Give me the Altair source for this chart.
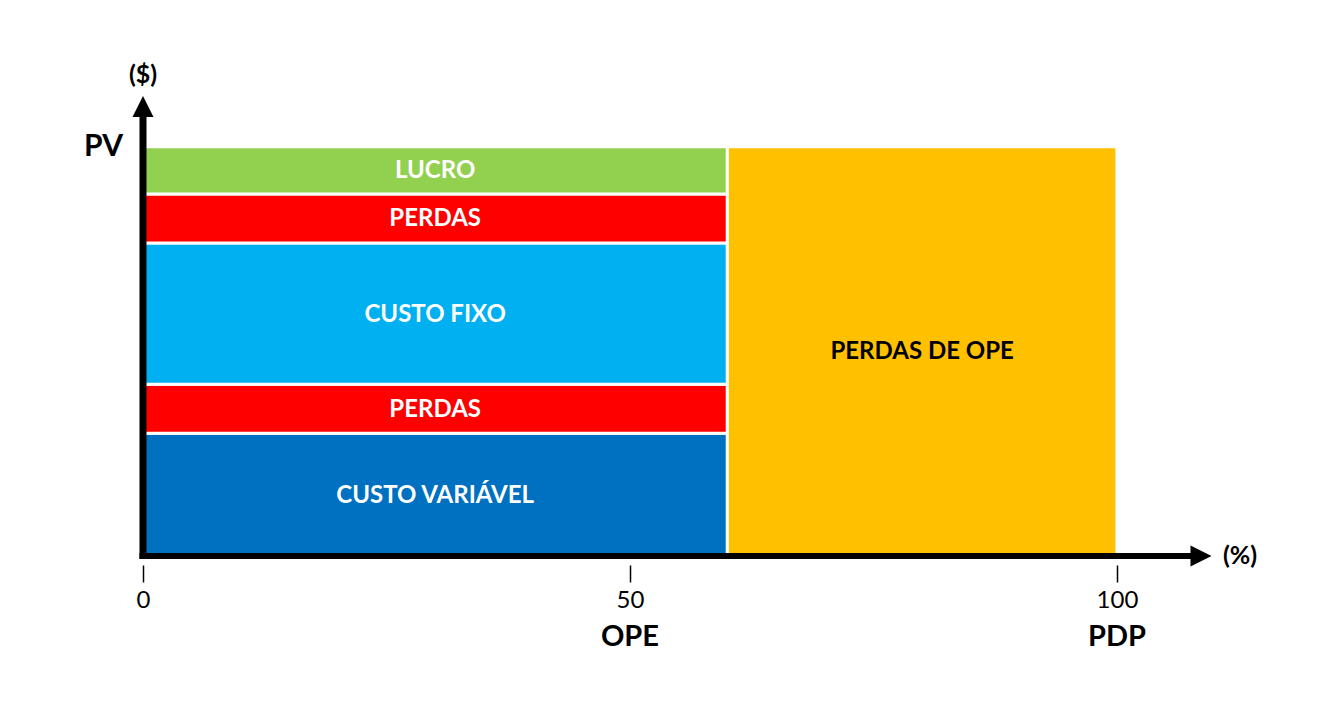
import altair as alt
import pandas as pd

# ---- data ----
segments = ["CUSTO VARIÁVEL", "PERDAS", "CUSTO FIXO", "PERDAS", "LUCRO"]
seg_values = [30, 12, 34.5, 12, 11.5]
seg_colors = ["#0070C0", "#FF0000", "#00B0F0", "#FF0000", "#92D050"]
ope = 60          # % where the stack ends
pdp = 100         # % full capacity
pv = 100          # price level
loss_label = "PERDAS DE OPE"
loss_color = "#FFC000"
x_ticks = [0, 50, 100]
x_marks = ["OPE", "PDP"]
x_mark_pos = [50, 100]

FONT = "Lato"

# build stacked table
rows = []
base = 0
for name, v, c in zip(segments, seg_values, seg_colors):
    rows.append({"label": name, "x": 0, "x2": ope, "y": base, "y2": base + v,
                 "color": c, "tcolor": "white"})
    base += v
rows.append({"label": loss_label, "x": ope, "x2": pdp, "y": 0, "y2": pv,
             "color": loss_color, "tcolor": "black"})
df = pd.DataFrame(rows)
df["xm"] = (df["x"] + df["x2"]) / 2
df["ym"] = (df["y"] + df["y2"]) / 2

xs = alt.Scale(domain=[0, 115], nice=False, zero=False)
ys = alt.Scale(domain=[0, 120], nice=False, zero=False)
xaxis = alt.Axis(values=x_ticks, offset=9, tickSize=17, tickWidth=1.5,
                 tickColor="black", domain=False, grid=False,
                 labelFont=FONT, labelFontSize=24, labelColor="black",
                 labelPadding=6, labelFlush=False, format="d", title=None)


def X(field):
    return alt.X(field, scale=xs, axis=xaxis, title=None)


def Y(field):
    return alt.Y(field, scale=ys, axis=None)


rects = alt.Chart(df).mark_rect(stroke="white", strokeWidth=3).encode(
    x=X("x:Q"), x2="x2:Q", y=Y("y:Q"), y2="y2:Q",
    color=alt.Color("color:N", scale=None),
)

labels = alt.Chart(df).mark_text(font=FONT, fontSize=24, fontWeight="bold", dy=1).encode(
    x=X("xm:Q"), y=Y("ym:Q"), text="label:N",
    color=alt.Color("tcolor:N", scale=None),
)

one = pd.DataFrame({"v": [0]})
# axis lines with arrows
yline = alt.Chart(one).mark_rule(color="black", strokeWidth=7).encode(
    x=X("v:Q"), y=alt.value(494), y2=alt.value(48),
)
xline = alt.Chart(one).mark_rule(color="black", strokeWidth=6).encode(
    y=Y("v:Q"), x=alt.value(-3.5), x2=alt.value(1053),
)
yarrow = alt.Chart(one).mark_point(
    shape="M0,-1L1,1L-1,1Z", size=441, filled=True, color="black", opacity=1
).encode(x=X("v:Q"), y=alt.value(41.5))
xarrow = alt.Chart(one).mark_point(
    shape="M-1,-1L1,0L-1,1Z", size=441, filled=True, color="black", opacity=1
).encode(y=Y("v:Q"), x=alt.value(1058))

marks_df = pd.DataFrame({"name": x_marks, "pos": x_mark_pos})
xmarks = alt.Chart(marks_df).mark_text(font=FONT, fontSize=29, fontWeight="bold",
                                       color="black").encode(
    x=X("pos:Q"), y=alt.value(572), text="name:N")

pv_df = pd.DataFrame({"name": ["PV"], "v": [pv]})
pv_text = alt.Chart(pv_df).mark_text(font=FONT, fontSize=30, fontWeight="bold",
                                     color="black", align="right").encode(
    x=alt.value(-20), y=Y("v:Q"), text="name:N")

unit_df = pd.DataFrame({"name": ["($)"], "v": [0]})
ytitle = alt.Chart(unit_df).mark_text(font=FONT, fontSize=25, fontWeight="bold",
                                      color="black").encode(
    x=X("v:Q"), y=alt.value(10), text="name:N")
pct_df = pd.DataFrame({"name": ["(%)"], "v": [0]})
xtitle = alt.Chart(pct_df).mark_text(font=FONT, fontSize=25, fontWeight="bold",
                                     color="black").encode(
    y=Y("v:Q"), x=alt.value(1097), text="name:N")

chart = alt.layer(rects, labels, xline, yline, yarrow, xarrow, xmarks, pv_text,
                  ytitle, xtitle).properties(
    width=1120, height=491,
    padding={"left": 135, "top": 57, "right": 60, "bottom": 100},
    autosize=alt.AutoSizeParams(type="none"),
).configure_view(stroke=None)

chart.save("out.html", embed_options={"renderer": "svg", "actions": False})
